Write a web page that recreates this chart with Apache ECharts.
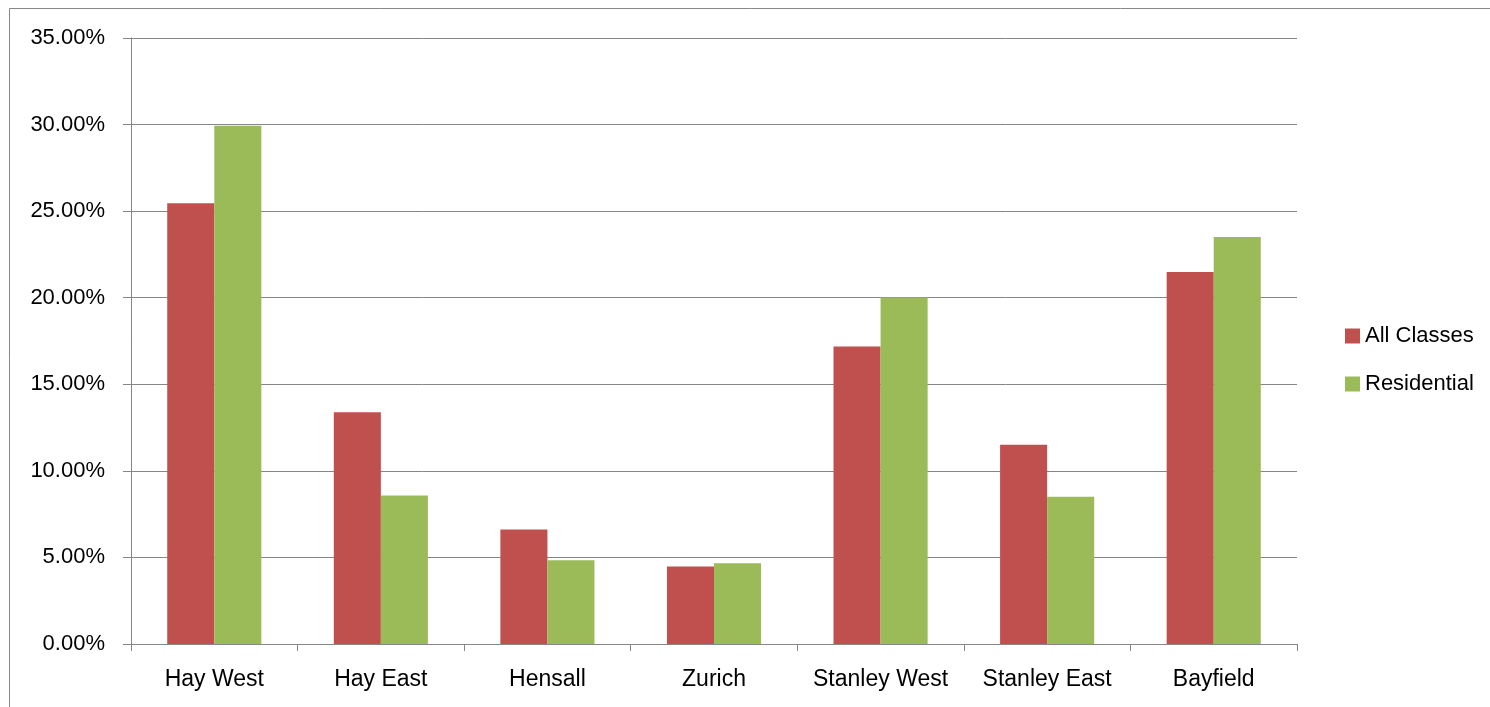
<!DOCTYPE html>
<html>
<head>
<meta charset="utf-8">
<script src="https://cdn.jsdelivr.net/npm/echarts@6/dist/echarts.min.js"></script>
<style>
html,body{margin:0;padding:0;background:#fff;}
#c{width:1490px;height:707px;}
</style>
</head>
<body>
<div id="c"></div>
<script>
const categories = ['Hay West','Hay East','Hensall','Zurich','Stanley West','Stanley East','Bayfield'];
const allClasses = [25.45, 13.38, 6.62, 4.48, 17.18, 11.51, 21.49];
const residential = [29.93, 8.58, 4.83, 4.66, 20.01, 8.51, 23.51];
const seriesNames = ['All Classes', 'Residential'];

const FONT = '"Liberation Sans", Arial, sans-serif';
const chart = echarts.init(document.getElementById('c'), null, {renderer:'canvas'});
chart.setOption({
  animation: false,
  backgroundColor: '#fff',
  graphic: [{
    type: 'rect', silent: true, z: -1,
    shape: {x: 9.5, y: 8.5, width: 1500, height: 720},
    style: {fill: 'none', stroke: '#888', lineWidth: 1}
  }],
  grid: {left: 131, right: 193, top: 38, bottom: 63, containLabel: false},
  legend: {
    orient: 'vertical', left: 1340, top: 320,
    itemWidth: 15, itemHeight: 15, itemGap: 26,
    icon: 'rect',
    textStyle: {fontFamily: FONT, fontSize: 22, color: '#000', lineHeight: 22},
    data: seriesNames
  },
  xAxis: {
    type: 'category', data: categories,
    axisLine: {lineStyle: {color: '#868686', width: 1}},
    axisTick: {show: true, length: 7, interval: 0, lineStyle: {color: '#868686'}},
    axisLabel: {fontFamily: FONT, fontSize: 23, color: '#000', margin: 24, interval: 0}
  },
  yAxis: {
    type: 'value', min: 0, max: 35, interval: 5,
    axisLine: {show: true, lineStyle: {color: '#868686', width: 1}},
    axisTick: {show: true, length: 8, lineStyle: {color: '#868686'}},
    splitLine: {lineStyle: {color: '#868686', width: 1}},
    axisLabel: {fontFamily: FONT, fontSize: 22, color: '#000', margin: 26,
      formatter: v => v.toFixed(2) + '%'}
  },
  series: [
    {name: seriesNames[0], type: 'bar', data: allClasses, barGap: '0%', barCategoryGap: '43.5%',
     itemStyle: {color: '#C0504D'}},
    {name: seriesNames[1], type: 'bar', data: residential, barGap: '0%', barCategoryGap: '43.5%',
     itemStyle: {color: '#9BBB59'}}
  ]
});
</script>
</body>
</html>
